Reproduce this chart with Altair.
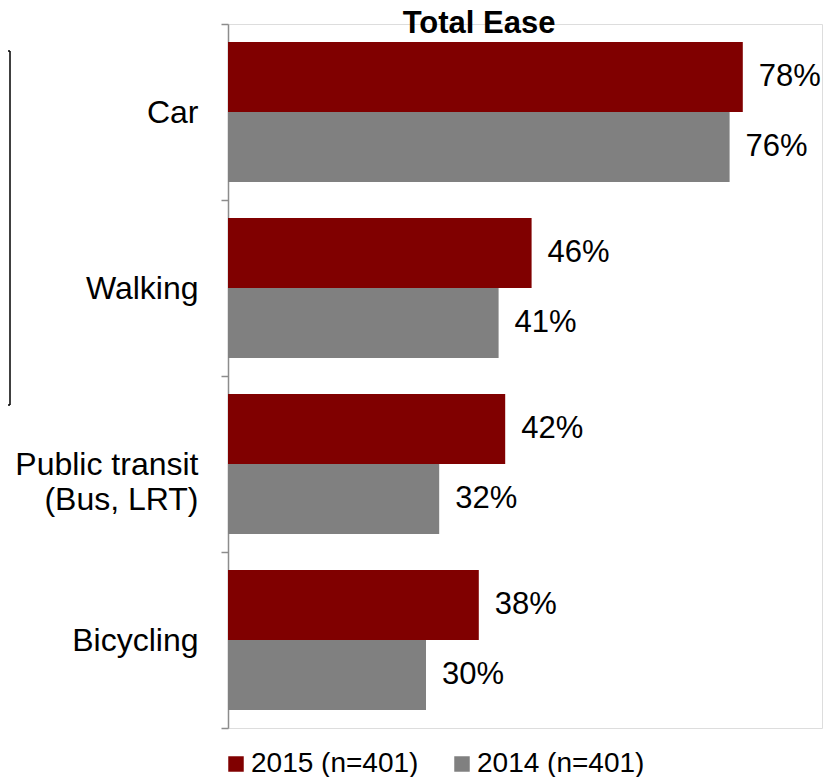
import altair as alt
import pandas as pd

categories = ["Car", "Walking", "Public transit (Bus, LRT)", "Bicycling"]
series = ["2015 (n=401)", "2014 (n=401)"]
values_2015 = [78, 46, 42, 38]
values_2014 = [76, 41, 32, 30]
colors = ["#800000", "#808080"]

rows = []
for c, a, b in zip(categories, values_2015, values_2014):
    rows.append({"cat": c, "series": series[0], "value": a, "label": f"{a}%"})
    rows.append({"cat": c, "series": series[1], "value": b, "label": f"{b}%"})
df = pd.DataFrame(rows)

FONT = "Liberation Sans"

y_enc = alt.Y(
    "cat:N",
    sort=categories,
    scale=alt.Scale(paddingInner=0, paddingOuter=0),
    axis=alt.Axis(
        title=None,
        labelFontSize=32,
        labelFont=FONT,
        labelColor="black",
        labelPadding=23,
        labelLimit=400,
        labelExpr="datum.value == 'Public transit (Bus, LRT)' ? ['Public transit', '(Bus, LRT)'] : datum.value",
        labelLineHeight=35,
        tickBand="extent",
        tickSize=7,
        tickColor="#8c8c8c",
        tickWidth=1.5,
        domainColor="#8c8c8c",
        domainWidth=1.5,
        grid=False,
    ),
)
yoff = alt.YOffset("series:N", sort=series, scale=alt.Scale(paddingInner=0, paddingOuter=0.257))
x_enc = alt.X("value:Q", scale=alt.Scale(domain=[0, 90]), axis=None)

bars = alt.Chart(df).mark_bar(strokeWidth=0).encode(
    y=y_enc,
    yOffset=yoff,
    x=x_enc,
    color=alt.Color(
        "series:N",
        sort=series,
        scale=alt.Scale(domain=series, range=colors),
        legend=alt.Legend(
            title=None,
            orient="bottom",
            direction="horizontal",
            symbolType="square",
            symbolSize=240,
            symbolStrokeWidth=0,
            symbolOffset=-6,
            labelFontSize=28,
            labelFont=FONT,
            labelColor="black",
            labelOffset=1,
            columnPadding=35,
            offset=22,
            padding=0,
            labelLimit=400,
        ),
    ),
)

labels = alt.Chart(df).mark_text(
    align="left", baseline="middle", dx=16, fontSize=31, font=FONT, color="black"
).encode(y=y_enc, yOffset=yoff, x=x_enc, text="label:N")

bracket_v = alt.Chart(alt.Data(values=[{}])).mark_rule(color="black", strokeWidth=1.5).encode(
    x=alt.value(-218), y=alt.value(27), y2=alt.value(381)
)
bracket_t = alt.Chart(alt.Data(values=[{}])).mark_rule(color="black", strokeWidth=1.5).encode(
    x=alt.value(-228), x2=alt.value(-218), y=alt.value(27)
)
bracket_b = alt.Chart(alt.Data(values=[{}])).mark_rule(color="black", strokeWidth=1.5).encode(
    x=alt.value(-228), x2=alt.value(-218), y=alt.value(381)
)

chart = alt.layer(bars, labels, bracket_v, bracket_t, bracket_b).properties(
    width=594,
    height=704,
    title=alt.TitleParams(
        "Total Ease",
        fontSize=31,
        fontWeight="bold",
        font=FONT,
        color="black",
        anchor="middle",
        dx=-46,
        offset=-13,
        dy=19,
    ),
    autosize=alt.AutoSizeParams(type="none"),
    padding={"left": 220, "top": 16, "right": 5, "bottom": 49},
).configure_view(stroke=None).configure(background="white")

chart.save("out.html", embed_options={"renderer": "svg", "actions": False})
